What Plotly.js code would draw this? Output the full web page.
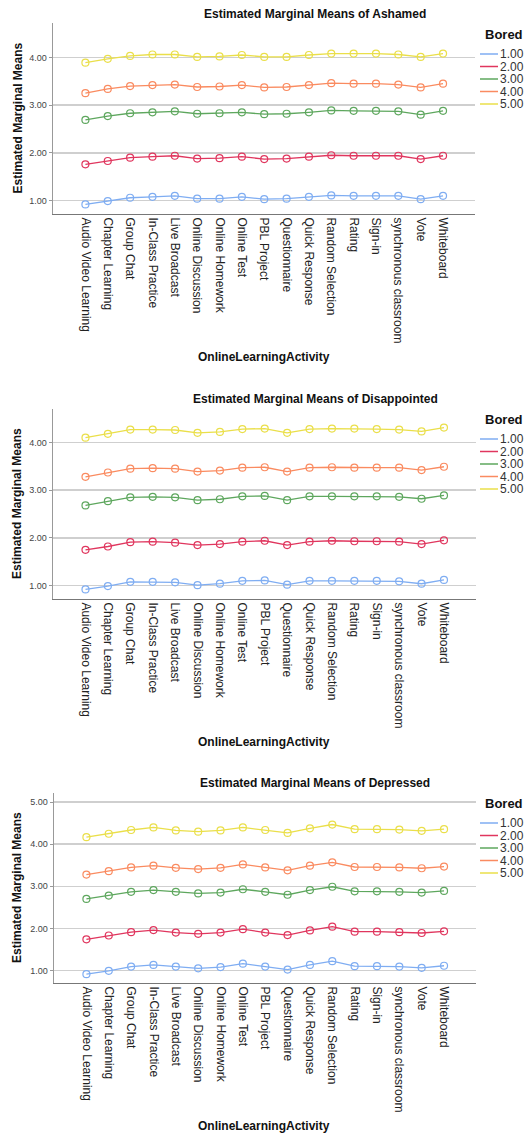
<!DOCTYPE html>
<html>
<head>
<meta charset="utf-8">
<script src="https://cdn.plot.ly/plotly-3.0.1.min.js"></script>
<style>
  html, body { margin: 0; padding: 0; background: #fff; width: 525px; height: 1133px; overflow: hidden; }
  .panel { position: absolute; left: 0; width: 525px; }
</style>
</head>
<body>
<div id="p1" class="panel" style="top:0px;height:370px;"></div>
<div id="p2" class="panel" style="top:370px;height:390px;"></div>
<div id="p3" class="panel" style="top:760px;height:373px;"></div>
<script>
// ---------- DATA ----------
const categories = ["Audio Video Learning", "Chapter Learning", "Group Chat", "In-Class Practice",
  "Live Broadcast", "Online Discussion", "Online Homework", "Online Test", "PBL Project",
  "Questionnaire", "Quick Response", "Random Selection", "Rating", "Sign-in",
  "synchronous classroom", "Vote", "Whiteboard"];
const boredLevels = ["1.00", "2.00", "3.00", "4.00", "5.00"];
const levelColors = ["#7fadf2", "#e0365e", "#5ea75e", "#fa8b60", "#eadf4a"];

// Ashamed
const ashamed1 = [0.92, 0.99, 1.06, 1.08, 1.10, 1.04, 1.04, 1.08, 1.03, 1.04, 1.08, 1.11, 1.10, 1.10, 1.10, 1.03, 1.10];
const ashamed2 = [1.76, 1.83, 1.90, 1.92, 1.94, 1.88, 1.89, 1.92, 1.87, 1.88, 1.92, 1.95, 1.94, 1.94, 1.94, 1.87, 1.94];
const ashamed3 = [2.69, 2.77, 2.83, 2.85, 2.87, 2.82, 2.83, 2.85, 2.81, 2.82, 2.85, 2.89, 2.88, 2.88, 2.87, 2.80, 2.88];
const ashamed4 = [3.25, 3.34, 3.40, 3.42, 3.43, 3.38, 3.39, 3.42, 3.37, 3.38, 3.42, 3.46, 3.45, 3.45, 3.43, 3.37, 3.45];
const ashamed5 = [3.89, 3.97, 4.03, 4.06, 4.06, 4.01, 4.02, 4.05, 4.01, 4.01, 4.05, 4.08, 4.08, 4.08, 4.06, 4.01, 4.08];

// Disappointed
const disappointed1 = [0.92, 0.99, 1.08, 1.08, 1.07, 1.01, 1.04, 1.10, 1.11, 1.02, 1.10, 1.10, 1.10, 1.10, 1.09, 1.04, 1.12];
const disappointed2 = [1.75, 1.82, 1.91, 1.92, 1.90, 1.85, 1.87, 1.92, 1.94, 1.85, 1.92, 1.94, 1.93, 1.93, 1.92, 1.87, 1.95];
const disappointed3 = [2.68, 2.77, 2.85, 2.86, 2.85, 2.79, 2.81, 2.87, 2.88, 2.79, 2.87, 2.87, 2.87, 2.87, 2.86, 2.82, 2.89];
const disappointed4 = [3.28, 3.37, 3.45, 3.46, 3.45, 3.39, 3.41, 3.47, 3.48, 3.39, 3.47, 3.48, 3.47, 3.47, 3.47, 3.42, 3.49];
const disappointed5 = [4.10, 4.18, 4.27, 4.27, 4.26, 4.20, 4.22, 4.28, 4.29, 4.20, 4.28, 4.29, 4.29, 4.28, 4.27, 4.23, 4.31];

// Depressed
const depressed1 = [0.91, 0.99, 1.09, 1.13, 1.09, 1.05, 1.08, 1.16, 1.09, 1.02, 1.13, 1.22, 1.10, 1.10, 1.09, 1.06, 1.11];
const depressed2 = [1.74, 1.83, 1.91, 1.96, 1.90, 1.87, 1.90, 1.98, 1.90, 1.84, 1.95, 2.04, 1.92, 1.92, 1.91, 1.89, 1.93];
const depressed3 = [2.70, 2.78, 2.87, 2.91, 2.87, 2.83, 2.85, 2.93, 2.87, 2.80, 2.91, 2.99, 2.88, 2.88, 2.87, 2.85, 2.89];
const depressed4 = [3.28, 3.36, 3.45, 3.49, 3.44, 3.41, 3.44, 3.52, 3.45, 3.38, 3.49, 3.57, 3.46, 3.46, 3.45, 3.43, 3.47];
const depressed5 = [4.17, 4.25, 4.34, 4.40, 4.33, 4.30, 4.33, 4.40, 4.34, 4.27, 4.38, 4.47, 4.36, 4.36, 4.35, 4.32, 4.36];

// ---------- DRAWING ----------
const W = 525;
const FONT = "Liberation Sans, Arial, Helvetica, sans-serif";

function drawPanel(cfg) {
  const m = cfg.margin;
  const H = cfg.height;
  const pw = W - m.l - m.r, ph = H - m.t - m.b;
  const fx = px => (px - m.l) / pw;
  const fy = py => (H - m.b - py) / ph;

  const traces = cfg.series.map((ys, i) => ({
    type: "scatter",
    mode: "lines+markers",
    name: boredLevels[i],
    x: categories,
    y: ys,
    line: { color: levelColors[i], width: 1.3 },
    marker: { symbol: "circle-open", size: 7, color: levelColors[i], line: { width: 1.2, color: levelColors[i] } },
    showlegend: false,
    cliponaxis: false,
    hoverinfo: "x+y"
  }));

  const shapes = [];
  const annotations = [];
  // panel title
  annotations.push({ text: "<b>" + cfg.title + "</b>", xref: "paper", yref: "paper",
    x: fx(315), y: fy(cfg.titleY), xanchor: "center", yanchor: "middle", showarrow: false,
    font: { family: FONT, size: 12, color: "#111" } });
  // y-axis title
  annotations.push({ text: "<b>Estimated Marginal Means</b>", xref: "paper", yref: "paper",
    x: fx(17), y: 0.5, xanchor: "center", yanchor: "middle", textangle: -90, showarrow: false,
    font: { family: FONT, size: 12, color: "#111" } });
  // x-axis title
  annotations.push({ text: "<b>OnlineLearningActivity</b>", xref: "paper", yref: "paper",
    x: fx(264), y: fy(cfg.xTitleY), xanchor: "center", yanchor: "middle", showarrow: false,
    font: { family: FONT, size: 12, color: "#111" } });
  // legend title
  annotations.push({ text: "<b>Bored</b>", xref: "paper", yref: "paper",
    x: fx(483), y: fy(cfg.legendTitleY), xanchor: "left", yanchor: "middle", showarrow: false,
    font: { family: FONT, size: 13, color: "#111" } });
  boredLevels.forEach((lvl, i) => {
    const py = cfg.legendY0 + i * 12.5;
    shapes.push({ type: "line", xref: "paper", yref: "paper",
      x0: fx(480), x1: fx(498), y0: fy(py), y1: fy(py),
      line: { color: levelColors[i], width: 1.5 } });
    annotations.push({ text: lvl, xref: "paper", yref: "paper",
      x: fx(498), y: fy(py), xanchor: "left", yanchor: "middle", showarrow: false,
      font: { family: FONT, size: 12, color: "#333" } });
  });

  const layout = {
    width: W, height: H,
    margin: m,
    paper_bgcolor: "#fff", plot_bgcolor: "#fff",
    showlegend: false,
    font: { family: FONT, color: "#333" },
    xaxis: {
      type: "category",
      range: [-1.45, 17.43],
      showgrid: false, zeroline: false,
      showline: true, linecolor: "#777", linewidth: 1,
      ticks: "", tickangle: 90,
      tickfont: { family: FONT, size: 12, color: "#222" },
      automargin: false, fixedrange: true
    },
    yaxis: {
      range: cfg.yRange,
      tickvals: cfg.yTicks,
      tickformat: ".2f",
      showgrid: true, gridcolor: "#cfcfcf", gridwidth: 1.6,
      zeroline: false,
      showline: true, linecolor: "#999", linewidth: 1.5,
      ticks: "outside", ticklen: 3, tickcolor: "#999",
      tickfont: { family: FONT, size: 9, color: "#444" },
      automargin: false, fixedrange: true
    },
    shapes: shapes,
    annotations: annotations
  };
  Plotly.newPlot(cfg.id, traces, layout, { displayModeBar: false, staticPlot: true });
}

drawPanel({
  id: "p1", height: 370,
  margin: { l: 53, r: 50, t: 23, b: 156, pad: 0 },
  yRange: [0.72, 4.72], yTicks: [1, 2, 3, 4],
  title: "Estimated Marginal Means of Ashamed",
  titleY: 14, xTitleY: 357, legendTitleY: 34, legendY0: 54,
  series: [ashamed1, ashamed2, ashamed3, ashamed4, ashamed5]
});
drawPanel({
  id: "p2", height: 390,
  margin: { l: 53, r: 49, t: 39, b: 161, pad: 0 },
  yRange: [0.72, 4.70], yTicks: [1, 2, 3, 4],
  title: "Estimated Marginal Means of Disappointed",
  titleY: 29, xTitleY: 372, legendTitleY: 50, legendY0: 69,
  series: [disappointed1, disappointed2, disappointed3, disappointed4, disappointed5]
});
drawPanel({
  id: "p3", height: 373,
  margin: { l: 54, r: 49, t: 33, b: 150, pad: 0 },
  yRange: [0.70, 5.22], yTicks: [1, 2, 3, 4, 5],
  title: "Estimated Marginal Means of Depressed",
  titleY: 23, xTitleY: 366, legendTitleY: 44, legendY0: 63,
  series: [depressed1, depressed2, depressed3, depressed4, depressed5]
});
</script>
</body>
</html>
